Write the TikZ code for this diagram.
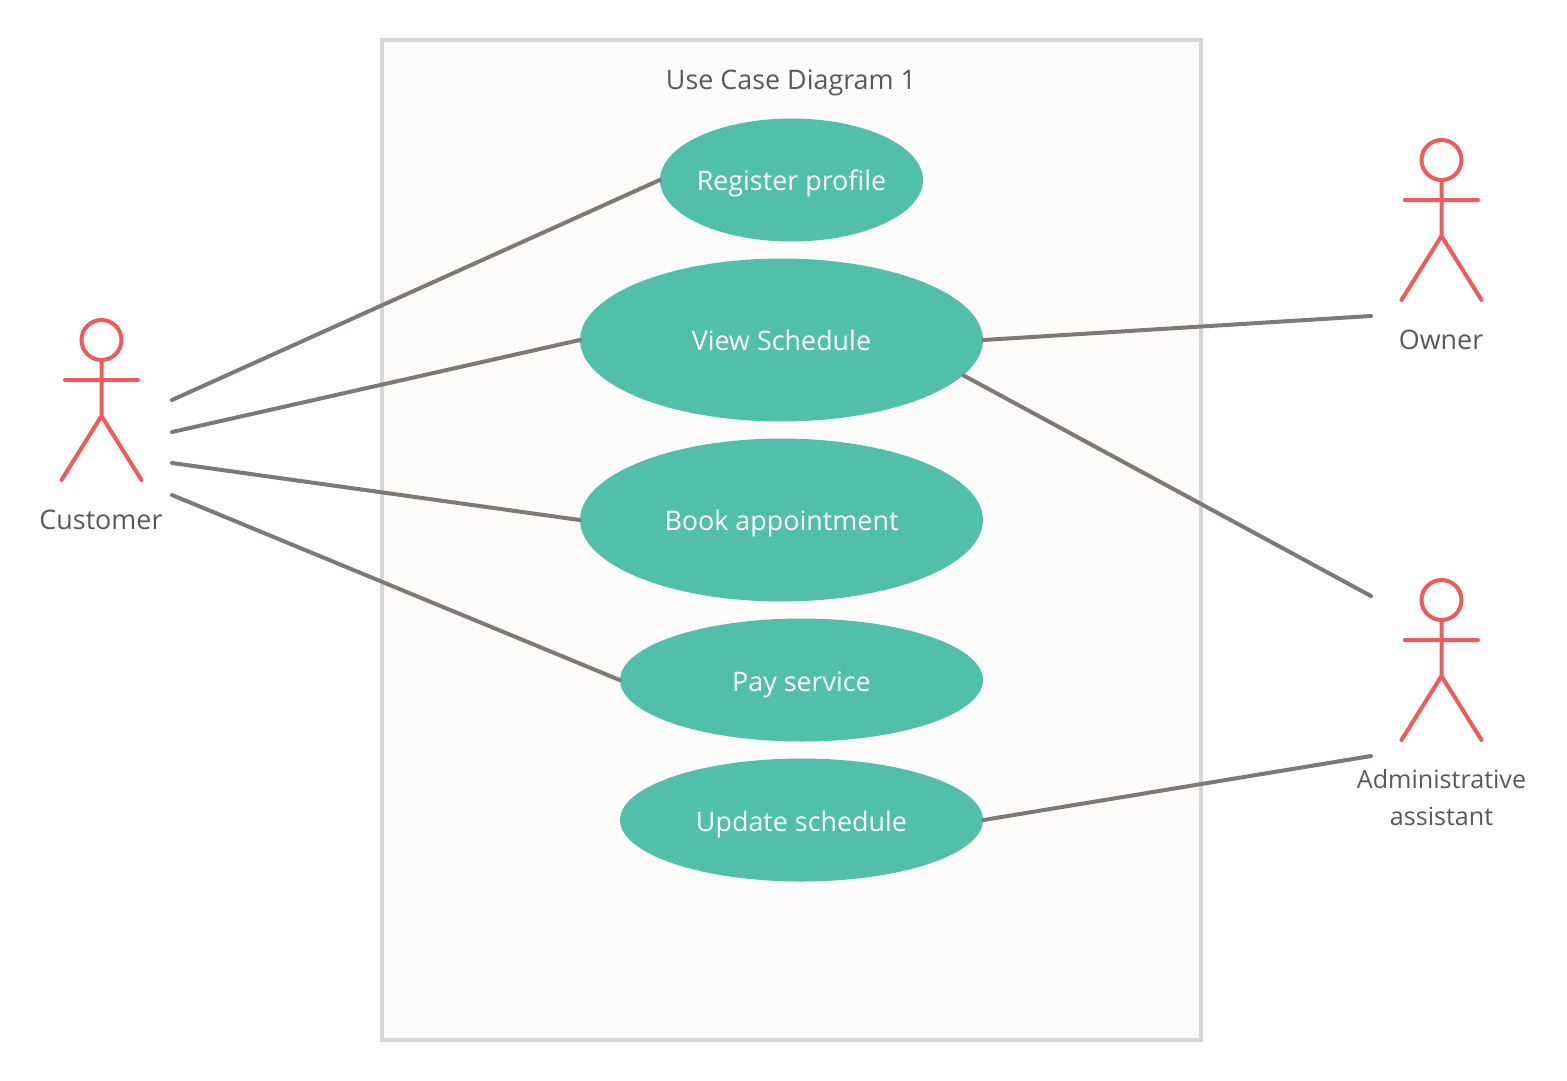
\documentclass[tikz,border=0pt]{standalone}
\usepackage{fontspec}
\setmainfont{Open Sans}
\usetikzlibrary{shapes.geometric}
\definecolor{frameline}{HTML}{D6D6D6}
\definecolor{framefill}{HTML}{FDFCFA}
\definecolor{casefill}{HTML}{52BFA9}
\definecolor{actorline}{HTML}{EF5A5A}
\definecolor{linkline}{HTML}{7D7A76}
\definecolor{labeltext}{HTML}{595959}
\begin{document}
\begin{tikzpicture}[
        x=0.02cm, y=-0.02cm,
        frame/.style={rectangle, draw=frameline, line width=0.08cm, fill=framefill, minimum width=16.4cm, minimum height=20cm},
        usecase/.style={ellipse, fill=casefill, text=white, inner xsep=-10pt, inner ysep=0pt, text height=12.5pt, text depth=0pt, font=\fontsize{15.3}{21}\selectfont},
        label/.style={text=labeltext, inner sep=0pt, align=center, font=\fontsize{15.3}{21}\selectfont},
        link/.style={draw=linkline, line width=0.08cm, line cap=round},
        actor/.pic={
            \draw[draw=actorline, line width=0.08cm, line cap=round] (0,0) circle[radius=20]
                (0,20) -- (0,76) (-36.5,40) -- (36.5,40)
                (-40,140) -- (0,76) -- (40,140);
        }
        ]

        \useasboundingbox (0,0) rectangle (1567,1080);

        % Frame
        \node[frame] (system) at (791.5,540) {};
        \node[label, text depth=0pt] (title) at (791,80) {Use Case Diagram 1};

        % Use cases
        \node[usecase, minimum width=5.26cm, minimum height=2.46cm] (register) at (791.5,180) {Register profile};
        \node[usecase, minimum width=8.06cm, minimum height=3.26cm] (view) at (781.5,340) {View Schedule};
        \node[usecase, minimum width=8.06cm, minimum height=3.26cm] (book) at (781.5,520) {Book appointment};
        \node[usecase, minimum width=7.26cm, minimum height=2.46cm] (pay) at (801.5,680) {Pay service};
        \node[usecase, minimum width=7.26cm, minimum height=2.46cm] (update) at (801.5,820) {Update schedule};

        % Actors
        \pic at (101.5,340) {actor};
        \pic at (1441.5,160) {actor};
        \pic at (1441.5,600) {actor};
        \node[label] (customer) at (101,520) {Customer};
        \node[label] (owner) at (1441,340) {Owner};
        \node[label, font=\fontsize{14.3}{21}\selectfont] (assistant) at (1441.5,798) {Administrative\\assistant};

        % Free ends
        \coordinate (cust1) at (172,400);
        \coordinate (cust2) at (172,432);
        \coordinate (cust3) at (172,463);
        \coordinate (cust4) at (172,495);
        \coordinate (own1) at (1371,316);
        \coordinate (admin1) at (1371,596);
        \coordinate (admin2) at (1371,756);

        % Links
        \draw[link] (cust1) -- (register.west);
        \draw[link] (cust2) -- (view.west);
        \draw[link] (cust3) -- (book.west);
        \draw[link] (cust4) -- (pay.west);
        \draw[link] (own1) -- (view.east);
        \draw[link] (admin1) -- (view.-11);
        \draw[link] (admin2) -- (update.east);

    \end{tikzpicture}
\end{document}
